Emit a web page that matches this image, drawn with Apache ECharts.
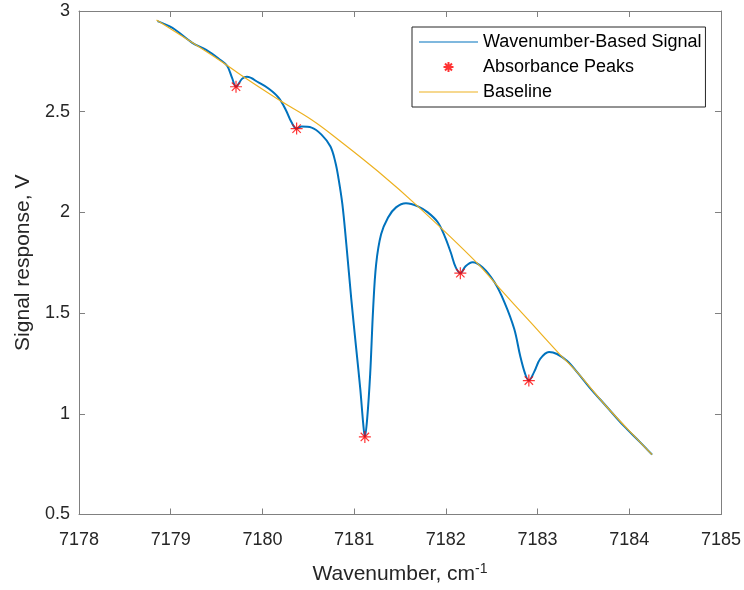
<!DOCTYPE html>
<html>
<head>
<meta charset="utf-8">
<script src="https://cdn.jsdelivr.net/npm/echarts@6/dist/echarts.min.js"></script>
<style>
  html, body { margin: 0; padding: 0; background: #ffffff; }
  #chart { width: 744px; height: 590px; }
</style>
</head>
<body>
<div id="chart"></div>
<script>
// Measured transmission signal versus wavenumber (cm^-1)
const signalX = [
  7178.856, 7179.019, 7179.235, 7179.387, 7179.528, 7179.615, 7179.669, 7179.712,
  7179.777, 7179.831, 7179.961, 7180.070, 7180.178, 7180.254, 7180.319, 7180.373,
  7180.427, 7180.536, 7180.644, 7180.742, 7180.796, 7180.828, 7180.872, 7180.915,
  7180.969, 7181.023, 7181.067, 7181.099, 7181.117, 7181.142, 7181.175, 7181.207,
  7181.240, 7181.294, 7181.370, 7181.457, 7181.565, 7181.695, 7181.803, 7181.912,
  7181.988, 7182.053, 7182.107, 7182.158, 7182.215, 7182.291, 7182.399, 7182.529,
  7182.638, 7182.746, 7182.811, 7182.865, 7182.905, 7182.963, 7183.028, 7183.125,
  7183.212, 7183.320, 7183.429, 7183.570, 7183.754, 7183.938, 7184.112, 7184.249
];
const signalY = [
  2.950, 2.916, 2.842, 2.807, 2.762, 2.728, 2.668, 2.624,
  2.663, 2.673, 2.644, 2.614, 2.569, 2.510, 2.446, 2.416,
  2.426, 2.421, 2.386, 2.327, 2.248, 2.173, 2.040, 1.842,
  1.569, 1.322, 1.124, 0.951, 0.885, 0.975, 1.198, 1.520,
  1.743, 1.891, 1.975, 2.025, 2.045, 2.030, 2.000, 1.951,
  1.881, 1.802, 1.728, 1.698, 1.733, 1.753, 1.728, 1.654,
  1.555, 1.421, 1.287, 1.198, 1.165, 1.208, 1.272, 1.307,
  1.297, 1.263, 1.208, 1.129, 1.035, 0.941, 0.862, 0.797
];

// Detected absorbance peaks (local minima of the signal)
const peakX = [7179.712, 7180.373, 7181.117, 7182.158, 7182.905];
const peakY = [2.624, 2.416, 0.885, 1.698, 1.165];

// Fitted baseline under the absorption features
const baseX = [
  7178.845, 7179.528, 7179.777, 7180.178, 7180.536, 7180.828, 7181.262, 7181.695,
  7182.323, 7182.594, 7182.920, 7183.245, 7183.429, 7183.754, 7184.112, 7184.249
];
const baseY = [
  2.955, 2.757, 2.678, 2.559, 2.460, 2.361, 2.203, 2.030,
  1.757, 1.619, 1.456, 1.294, 1.208, 1.035, 0.862, 0.797
];

// Axis ticks
const xTicks = { min: 7178, max: 7185, step: 1 };
const yTicks = { min: 0.5, max: 3, step: 0.5 };

const zip = (xs, ys) => xs.map((x, i) => [x, ys[i]]);

const FONT = "'Liberation Sans', Arial, Helvetica, sans-serif";
const AXIS_GRAY = '#808080';
const TEXT = '#262626';
const ASTERISK = 'path://M5,0L5,10M0,5L10,5M1.5,1.5L8.5,8.5M1.5,8.5L8.5,1.5';
// Legend icons: bare move-to corners fix the box to 59x18 so the glyph keeps its size
const CORNERS = 'M0,0M59,18';
const LEGEND_LINE = 'path://' + CORNERS + 'M0,8.5L59,8.5L59,9.6L0,9.6Z';
const LEGEND_STAR = 'path://' + CORNERS + 'M29.5,4L29.5,14M24.5,9L34.5,9M26,5.5L33,12.5M26,12.5L33,5.5';

const chart = echarts.init(document.getElementById('chart'), null, { renderer: 'canvas' });

const boxAxis = (pos) => ({
  type: 'value',
  position: pos,
  axisLine: { show: true, onZero: false, lineStyle: { color: AXIS_GRAY, width: 1 } },
  axisTick: { show: true, inside: true, length: 6, lineStyle: { color: AXIS_GRAY } },
  axisLabel: { show: false },
  splitLine: { show: false }
});

chart.setOption({
  backgroundColor: '#ffffff',
  animation: false,
  textStyle: { fontFamily: FONT },
  grid: { left: 79, right: 19, top: 11, bottom: 73, containLabel: false },
  legend: {
    orient: 'vertical',
    left: 412,
    top: 27,
    padding: [6, 4, 6, 6],
    itemGap: 6,
    itemWidth: 59,
    itemHeight: 18,
    backgroundColor: '#ffffff',
    borderColor: '#262626',
    borderWidth: 1,
    textStyle: { fontSize: 18, color: '#000000', fontFamily: FONT },
    data: [
      { name: 'Wavenumber-Based Signal', icon: LEGEND_LINE },
      { name: 'Absorbance Peaks', icon: LEGEND_STAR },
      { name: 'Baseline', icon: LEGEND_LINE }
    ]
  },
  xAxis: [
    Object.assign(boxAxis('bottom'), {
      min: xTicks.min, max: xTicks.max, interval: xTicks.step,
      axisLabel: { show: true, color: TEXT, fontSize: 18, margin: 17, fontFamily: FONT,
                   formatter: (v) => String(v) },
      name: '{m|Wavenumber, cm}{s|-1}',
      nameLocation: 'middle',
      nameGap: 48,
      nameTextStyle: {
        color: TEXT,
        rich: {
          m: { fontSize: 21, color: TEXT, fontFamily: FONT },
          s: { fontSize: 14, color: TEXT, fontFamily: FONT, verticalAlign: 'top', padding: [0, 0, 10, 0] }
        }
      }
    }),
    Object.assign(boxAxis('top'), { min: xTicks.min, max: xTicks.max, interval: xTicks.step })
  ],
  yAxis: [
    Object.assign(boxAxis('left'), {
      min: yTicks.min, max: yTicks.max, interval: yTicks.step,
      axisLabel: { show: true, color: TEXT, fontSize: 18, margin: 9, fontFamily: FONT },
      name: 'Signal response, V',
      nameLocation: 'middle',
      nameGap: 41,
      nameTextStyle: { color: TEXT, fontSize: 21, fontFamily: FONT }
    }),
    Object.assign(boxAxis('right'), { min: yTicks.min, max: yTicks.max, interval: yTicks.step })
  ],
  series: [
    {
      name: 'Wavenumber-Based Signal',
      type: 'line',
      data: zip(signalX, signalY),
      smooth: 0.35,
      symbol: 'none',
      color: '#0072BD',
      lineStyle: { color: '#0072BD', width: 2 },
      z: 2
    },
    {
      name: 'Absorbance Peaks',
      type: 'scatter',
      data: zip(peakX, peakY),
      symbol: ASTERISK,
      symbolSize: 12,
      color: '#FF0000',
      itemStyle: { color: 'rgba(0,0,0,0)', borderColor: '#FF0000', borderWidth: 1.2 },
      z: 4
    },
    {
      name: 'Baseline',
      type: 'line',
      data: zip(baseX, baseY),
      smooth: 0.4,
      symbol: 'none',
      color: '#EDB120',
      lineStyle: { color: '#EDB120', width: 1.2 },
      z: 3
    }
  ]
});
</script>
</body>
</html>
